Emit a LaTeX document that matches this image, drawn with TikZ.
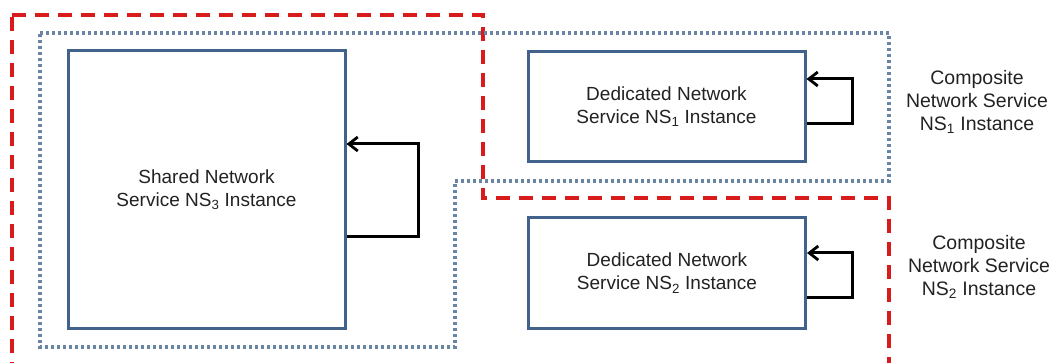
\documentclass[tikz,border=0pt]{standalone}
\usepackage{fontspec}
\setmainfont{Liberation Sans}
\usetikzlibrary{arrows.meta}
\definecolor{boxblue}{HTML}{41628A}
\definecolor{dotblue}{HTML}{6A84A3}
\definecolor{dashred}{HTML}{D81C1C}
\definecolor{txt}{HTML}{222222}
\tikzset{
  svcbox/.style={draw=boxblue, line width=3pt, fill=white, minimum width=277pt, align=center,
    text=txt, font=\fontsize{19}{23}\selectfont, inner sep=0pt},
  lbl/.style={align=center, text=txt, font=\fontsize{19.5}{23}\selectfont, inner sep=0pt},
  loopline/.style={draw=black, line width=3pt, -{Straight Barb[length=9pt,width=14pt,line width=2.8pt]}},
  redframe/.style={draw=dashred, line width=4pt, dash pattern=on 14pt off 9pt},
  blueframe/.style={draw=dotblue, line width=3.2pt, dash pattern=on 3pt off 3pt}
}
\begin{document}
\begin{tikzpicture}[x=1pt,y=-1pt]
\useasboundingbox (0,0) rectangle (1052,363);
% frames
\draw[redframe] (12,15) -- (483,15) -- (483,198) -- (889,198) -- (889,365) -- (12,365) -- cycle;
\draw[blueframe] (40,33) -- (889,33) -- (889,181) -- (455,181) -- (455,347) -- (40,347) -- cycle;
% boxes
\node[svcbox, minimum height=277pt] (shared) at (206.5,189.5) {Shared Network\\Service NS\textsubscript{3} Instance};
\node[svcbox, minimum height=110pt] (ns1) at (666.5,107) {Dedicated Network\\Service NS\textsubscript{1} Instance};
\node[svcbox, minimum height=110pt] (ns2) at (667,273) {Dedicated Network\\Service NS\textsubscript{2} Instance};
% labels
\node[lbl] (c1) at (977,102) {Composite\\Network Service\\NS\textsubscript{1} Instance};
\node[lbl] (c2) at (979,267) {Composite\\Network Service\\NS\textsubscript{2} Instance};
% loops
\coordinate (s1) at (418,144);
\coordinate (s2) at (418,237);
\draw[loopline] (shared.east |- s2) -- (s2) -- (s1) -- (shared.east |- s1);
\coordinate (a1) at (852,79);
\coordinate (a2) at (852,124);
\draw[loopline] (ns1.east |- a2) -- (a2) -- (a1) -- (ns1.east |- a1);
\coordinate (b1) at (852,253);
\coordinate (b2) at (852,298);
\draw[loopline] (ns2.east |- b2) -- (b2) -- (b1) -- (ns2.east |- b1);
\end{tikzpicture}
\end{document}
